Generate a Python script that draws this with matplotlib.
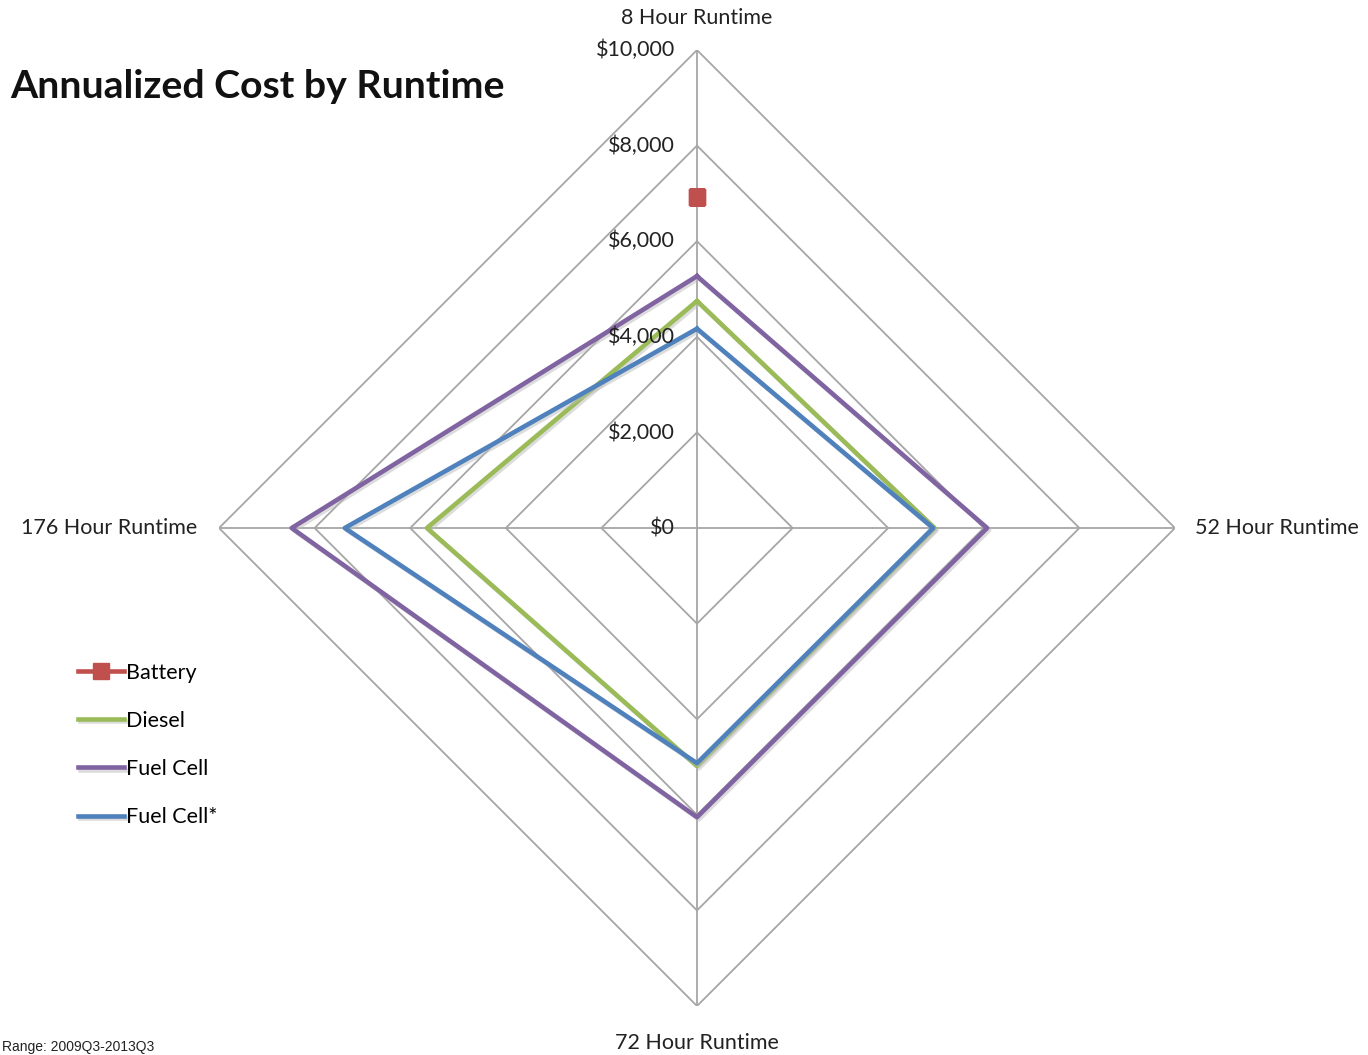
import numpy as np
import matplotlib
matplotlib.use("Agg")
import matplotlib.pyplot as plt
import matplotlib.patheffects as pe

categories = ["8 Hour Runtime", "52 Hour Runtime", "72 Hour Runtime", "176 Hour Runtime"]
battery = [6920, np.nan, np.nan, np.nan]
diesel = [4750, 4970, 4980, 5650]
fuel_cell = [5270, 6070, 6050, 8480]
fuel_cell_star = [4170, 4940, 4920, 7370]
ring_values = [0, 2000, 4000, 6000, 8000, 10000]
ring_labels = ["$0", "$2,000", "$4,000", "$6,000", "$8,000", "$10,000"]
footnote = "Range: 2009Q3-2013Q3"

plt.rcParams['font.family'] = ['Lato', 'DejaVu Sans']

fig = plt.figure(figsize=(13.68, 10.55), dpi=100)
ax = fig.add_axes([0.1601, 0.0464, 0.6988, 0.9062], projection='polar')
ax.set_theta_offset(np.pi / 2)
ax.set_theta_direction(-1)
ax.set_ylim(0, 10000)
ax.grid(False)
ax.spines['polar'].set_visible(False)
ax.set_xticks([])
ax.set_yticks([])
ax.patch.set_alpha(0)

n = len(categories)
theta = np.arange(n) * 2 * np.pi / n
theta_closed = np.append(theta, theta[0])

grid_color = '#a6a6a6'
for rv in ring_values[1:]:
    ax.plot(theta_closed, [rv] * (n + 1), color=grid_color, lw=1.3, zorder=1)
for t in theta:
    ax.plot([t, t], [0, 10000], color=grid_color, lw=1.3, zorder=1)

shadow = [pe.SimpleLineShadow(offset=(1.5, -1.5), shadow_color='#bbbbbb', alpha=0.5), pe.Normal()]

def closed(v):
    return np.append(v, v[0])

series = [
    ("Battery", battery, '#c0504d', 's'),
    ("Diesel", diesel, '#9bbb59', None),
    ("Fuel Cell", fuel_cell, '#8064a2', None),
    ("Fuel Cell*", fuel_cell_star, '#4f81bd', None),
]
handles = []
for name, vals, col, mk in series:
    if mk:
        h, = ax.plot(theta_closed, closed(vals), color=col, lw=3.3, marker=mk,
                     markersize=12, zorder=3, label=name)
    else:
        h, = ax.plot(theta_closed, closed(vals), color=col, lw=3.3, zorder=3,
                     label=name, path_effects=shadow)
    handles.append(h)

fs = 15.5
tc = '#222222'
for rv, lab in zip(ring_values, ring_labels):
    ax.annotate(lab, xy=(0, rv), xytext=(-22, 0), textcoords='offset pixels',
                ha='right', va='center', fontsize=fs, color=tc)

ax.text(theta[0], 10670, categories[0], ha='center', va='center', fontsize=fs, color=tc)
ax.text(theta[1], 10420, categories[1], ha='left', va='center', fontsize=fs, color=tc)
ax.text(theta[2], 10770, categories[2], ha='center', va='center', fontsize=fs, color=tc)
ax.text(theta[3], 10460, categories[3], ha='right', va='center', fontsize=fs, color=tc)

fig.text(10 / 1368, 1 - 87 / 1055, "Annualized Cost by Runtime", fontsize=28.3,
         fontweight='bold', ha='left', va='center', color='#111111')

leg = fig.legend(handles=handles, loc='upper left', bbox_to_anchor=(69 / 1368, 1 - 654 / 1055),
                 frameon=False, fontsize=fs, handlelength=2.15, handletextpad=0.08,
                 labelspacing=1.31, borderaxespad=0)

fig.text(2 / 1368, 1 - 1047 / 1055, footnote, fontsize=10, ha='left', va='center',
         family=['Liberation Sans'], color='#222222')

fig.savefig("out.png", dpi=100, facecolor='white')
